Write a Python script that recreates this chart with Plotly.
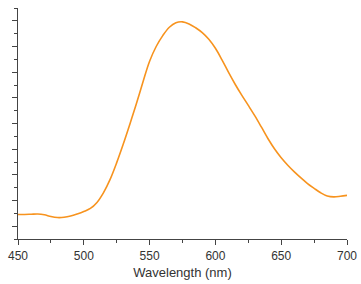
import plotly.graph_objects as go

wavelength = [450, 455, 460, 465, 470, 475, 480, 485, 490, 495, 500, 505, 510, 515, 520,
              525, 530, 535, 540, 545, 550, 555, 560, 565, 570, 575, 580, 585, 590, 595,
              600, 605, 610, 615, 620, 625, 630, 635, 640, 645, 650, 655, 660, 665, 670,
              675, 680, 685, 690, 695, 700]
intensity = [1.91, 1.91, 1.93, 1.95, 1.89, 1.75, 1.67, 1.69, 1.79, 1.95, 2.14, 2.38, 2.85,
             3.62, 4.65, 5.95, 7.40, 8.95, 10.55, 12.25, 13.85, 15.00, 15.85, 16.50, 16.85,
             16.92, 16.76, 16.46, 16.08, 15.56, 14.86, 13.96, 12.98, 12.06, 11.21, 10.41,
             9.59, 8.71, 7.81, 7.01, 6.33, 5.75, 5.23, 4.76, 4.32, 3.95, 3.60, 3.35, 3.28,
             3.33, 3.40]
x_ticks = [450, 500, 550, 600, 650, 700]
x_minor = [475, 525, 575, 625, 675]
y_major = [1, 3, 5, 7, 9, 11, 13, 15, 17]
y_minor = [0, 2, 4, 6, 8, 10, 12, 14, 16, 18]

fig = go.Figure()
fig.add_trace(go.Scatter(x=wavelength, y=intensity, mode="lines",
                         line=dict(color="#F7931E", width=1.6, shape="spline", smoothing=1.0),
                         showlegend=False, hoverinfo="skip"))

axis_color = "#444444"
fig.update_layout(
    width=361, height=284,
    margin=dict(l=18, r=14, t=8, b=45, autoexpand=False),
    paper_bgcolor="white", plot_bgcolor="white",
    font=dict(family="Liberation Sans, Arial, sans-serif", color="#333333", size=12),
    xaxis=dict(range=[450, 700], tickmode="array", tickvals=x_ticks,
               ticktext=[str(v) for v in x_ticks], automargin=False,
               ticks="outside", ticklen=5, tickwidth=1, tickcolor=axis_color,
               showline=True, linecolor=axis_color, linewidth=1.2,
               showgrid=False, zeroline=False,
               minor=dict(tickmode="array", tickvals=x_minor, ticks="outside", ticklen=3,
                          tickcolor=axis_color, showgrid=False),
               tickfont=dict(size=12, color="#333333"),
               title=dict(text="Wavelength (nm)", font=dict(size=13, color="#333333"), standoff=6)),
    yaxis=dict(range=[0, 18], tickmode="array", tickvals=y_major, showticklabels=False,
               automargin=False,
               ticks="outside", ticklen=5, tickwidth=1, tickcolor=axis_color,
               showline=True, linecolor=axis_color, linewidth=1.2,
               showgrid=False, zeroline=False,
               minor=dict(tickmode="array", tickvals=y_minor, ticks="outside", ticklen=3,
                          tickcolor=axis_color, showgrid=False)),
)

fig.write_html("out.html", config={"displayModeBar": False},
               post_script="document.body.style.margin='0';document.body.style.overflow='hidden';"
                           "document.documentElement.style.overflow='hidden';")
